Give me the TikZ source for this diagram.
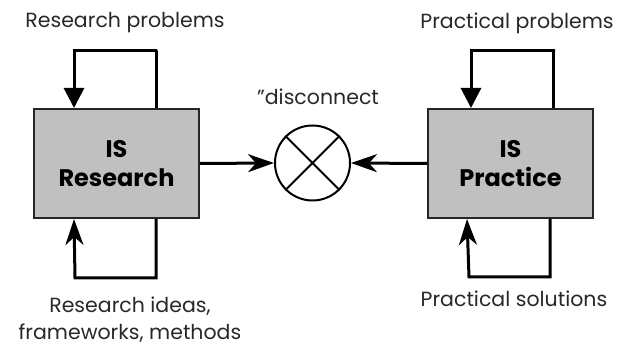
\documentclass[tikz,border=0pt]{standalone}
\usepackage{fontspec}
\setmainfont{Poppins}
\usetikzlibrary{arrows.meta,calc}
\definecolor{boxgray}{RGB}{192,192,192}
\definecolor{txtgray}{RGB}{40,40,40}
\begin{document}
\begin{tikzpicture}[x=1pt,y=-1pt,
  isbox/.style={draw=black!85,line width=2pt,fill=boxgray,minimum width=165pt,minimum height=109pt,inner sep=0pt,align=center,font=\fontsize{24}{29}\selectfont\bfseries},
  lbl/.style={font=\fontsize{20.5}{27}\selectfont,text=txtgray,inner sep=0pt,align=center},
  conn/.style={line width=3pt},
  tipa/.style={-{Triangle[length=20pt,width=20pt]}},
  tipb/.style={-{Stealth[length=26pt,width=18pt,inset=8pt]}}]
\useasboundingbox (0,0) rectangle (635,347);
\node[isbox] (res) at (116.5,163.5) {IS\\Research};
\node[isbox] (pra) at (510.5,163.5) {IS\\Practice};
\node[draw,circle,line width=2pt,minimum size=75pt,inner sep=0pt] (x) at (312.5,163) {};
\draw[line width=2pt] (x.45) -- (x.225) (x.135) -- (x.315);
\node[lbl] (rp) at (125,23) {Research problems};
\node[lbl] (pp) at (517,23) {Practical problems};
\node[lbl] (dc) at (318,97) {"disconnect};
\node[lbl] (ri) at (130,320) {Research ideas,\\frameworks, methods};
\node[lbl] (ps) at (514,299) {Practical solutions};
% top loops
\coordinate (rt) at (157,51); \coordinate (pt) at (555,51);
\draw[conn,tipa] ($(res.north west)+(123,0)$) |- (rt) -| ($(res.north west)+(41,0)$);
\draw[conn,tipa] ($(pra.north west)+(126,0)$) |- (pt) -| ($(pra.north west)+(44,0)$);
% bottom loops
\coordinate (rbm) at (75,278); \coordinate (pbm) at (469,277);
\draw[conn,tipb] ($(res.south west)+(123,0)$) |- (rbm) -- ($(res.south west)+(41,0)$);
\draw[conn,tipb] ($(pra.south west)+(123,0)$) |- (pbm) -- ($(pra.south west)+(40,0)$);
% to circle
\draw[conn,tipb] (res.east) -- (x.west);
\draw[conn,tipb] (pra.west) -- (x.east);
\end{tikzpicture}
\end{document}
